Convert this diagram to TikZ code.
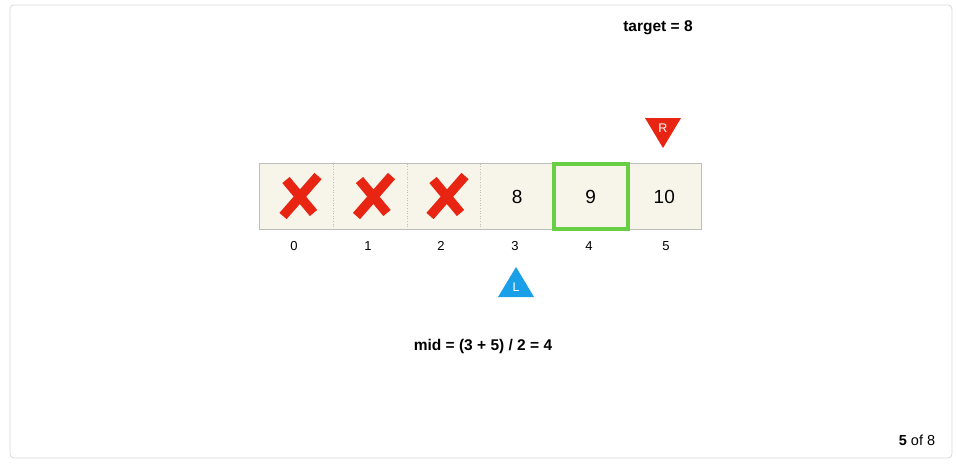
\documentclass[tikz,border=0pt]{standalone}
\usepackage{fontspec}
\setmainfont{Liberation Sans}

\definecolor{cellfill}{RGB}{247,245,234}
\definecolor{cellline}{RGB}{190,190,186}
\definecolor{xred}{RGB}{232,36,18}
\definecolor{midgreen}{RGB}{104,206,68}
\definecolor{lblue}{RGB}{26,160,232}
\definecolor{framegray}{RGB}{214,214,214}

\begin{document}
\begin{tikzpicture}[x=1pt, y=-1pt,
    cell/.style={minimum width=73.5pt, minimum height=65pt, inner sep=0pt,
        fill=cellfill, font=\fontsize{19}{19}\selectfont},
    idx/.style={font=\fontsize{13}{13}\selectfont},
    sep/.style={draw=cellline, dotted, line width=0.6pt},
    cross/.style={draw=xred, line width=9.5pt, line cap=butt},
    ptr/.style={text=white, font=\fontsize{12.5}{12.5}\selectfont},
    caption/.style={font=\fontsize{15.5}{15.5}\selectfont\bfseries}]

    \useasboundingbox (0,0) rectangle (957,464);
    \draw[framegray, rounded corners=4pt, line width=0.8pt] (10,5) rectangle (952,458);

    % the array
    \node[cell] (c0) at (296.75,196.5) {};
    \node[cell] (c1) at (370.25,196.5) {};
    \node[cell] (c2) at (443.75,196.5) {};
    \node[cell] (c3) at (517.25,196.5) {8};
    \node[cell] (c4) at (590.75,196.5) {9};
    \node[cell] (c5) at (664.25,196.5) {10};

    \path[sep] (c0.north east) edge (c0.south east);
    \path[sep] (c1.north east) edge (c1.south east);
    \path[sep] (c2.north east) edge (c2.south east);
    \draw[cellline, line width=0.8pt] (c0.north west) rectangle (c5.south east);

    % discarded cells
    \draw[cross] (283,216) -- (318,176);
    \draw[cross] (286,180) -- (313.5,213);
    \draw[cross] (356.5,216) -- (391.5,176);
    \draw[cross] (359.5,180) -- (387,213);
    \draw[cross] (430,216) -- (465,176);
    \draw[cross] (433,180) -- (460.5,213);

    % mid
    \draw[midgreen, line width=4pt] (c4.north west) rectangle (c4.south east);

    % indices
    \node[idx] (i0) at (294,246) {0};
    \node[idx] (i1) at (368,246) {1};
    \node[idx] (i2) at (441,246) {2};
    \node[idx] (i3) at (515,246) {3};
    \node[idx] (i4) at (589,246) {4};
    \node[idx] (i5) at (666,246) {5};

    % pointers
    \fill[xred] (645,118) -- (681,118) -- (663,148) -- cycle;
    \node[ptr] (R) at (663,128) {R};
    \fill[lblue] (516,267) -- (534,297) -- (498,297) -- cycle;
    \node[ptr] (L) at (516,287) {L};

    \node[caption] (target) at (658,28) {target = 8};
    \node[caption] (mid) at (483,346) {mid = (3 + 5) / 2 = 4};
    \node[font=\fontsize{14.5}{14.5}\selectfont] (page) at (917,440) {\textbf{5} of 8};

\end{tikzpicture}
\end{document}
